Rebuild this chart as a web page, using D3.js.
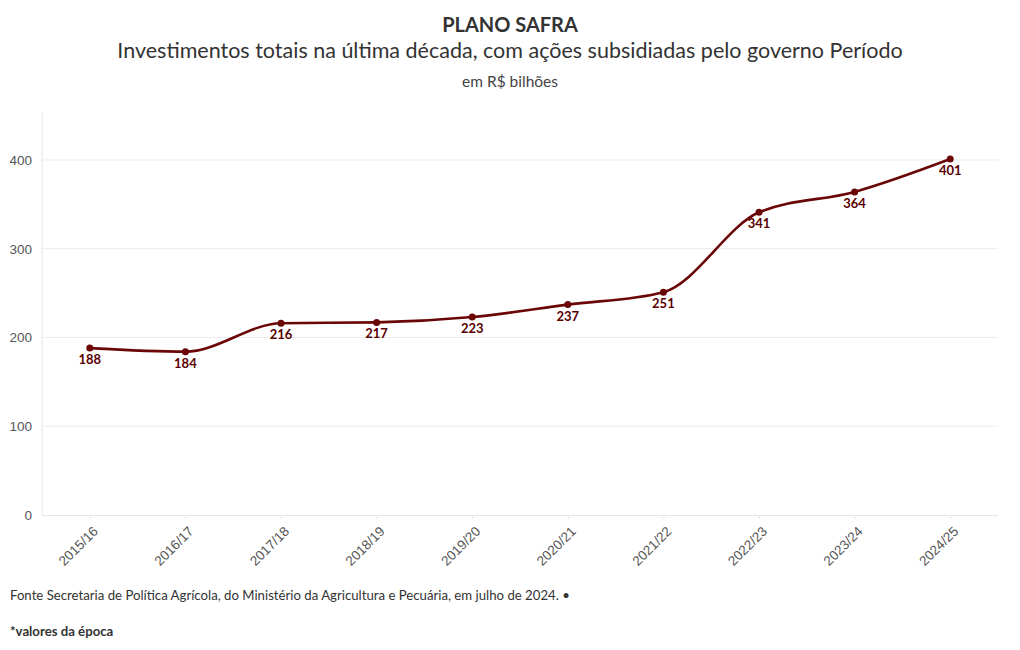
<!DOCTYPE html>
<html><head><meta charset="utf-8">
<script src="https://cdn.jsdelivr.net/npm/d3@7"></script>
<style>
body{margin:0;background:#fff;}
svg{font-family:"Source Sans Pro","Lato","Noto Sans",sans-serif;}
</style></head>
<body><svg id="c" width="1020" height="650"></svg>
<script>
const categories=["2015/16","2016/17","2017/18","2018/19","2019/20","2020/21","2021/22","2022/23","2023/24","2024/25"];
const values=[188,184,216,217,223,237,251,341,364,401];
const yTicks=[0,100,200,300,400];

const svg=d3.select("#c");
const m={l:42,r:998,t:112,b:515};
const x=d3.scalePoint().domain(categories).range([m.l,m.r]).padding(0.5);
const y=d3.scaleLinear().domain([0,454]).range([m.b,m.t]);
const col="#6b0606";

// title
svg.append("text").attr("x",510).attr("y",32).attr("text-anchor","middle").attr("font-size",20).attr("font-weight",700).attr("fill","#333").text("PLANO SAFRA");
svg.append("text").attr("x",510).attr("y",58).attr("text-anchor","middle").attr("font-size",21.5).attr("fill","#333").text("Investimentos totais na última década, com ações subsidiadas pelo governo Período");
svg.append("text").attr("x",510).attr("y",87).attr("text-anchor","middle").attr("font-size",15.5).attr("fill","#444").text("em R$ bilhões");

// grid
svg.append("g").selectAll("line").data(yTicks.filter(d=>d>0)).join("line")
 .attr("x1",m.l).attr("x2",m.r).attr("y1",d=>y(d)).attr("y2",d=>y(d)).attr("stroke","#ececec");
// y axis line
svg.append("line").attr("x1",m.l).attr("x2",m.l).attr("y1",m.t).attr("y2",m.b).attr("stroke","#e6e6e6");
const ya=svg.append("g").attr("transform",`translate(${m.l},0)`).call(d3.axisLeft(y).tickValues(yTicks).tickSize(0).tickPadding(10));
ya.select(".domain").remove();
ya.selectAll("text").attr("font-size",13.5).attr("fill","#555").attr("font-family","inherit");

// x axis
const xa=svg.append("g").attr("transform",`translate(0,${m.b})`).call(d3.axisBottom(x).tickSize(4).tickPadding(6));
xa.select(".domain").attr("d",`M${m.l},0.5H${m.r}`).attr("stroke","#e6e6e6");
xa.selectAll(".tick line").attr("stroke","#e6e6e6");
xa.selectAll("text").attr("font-size",13.5).attr("fill","#555").attr("font-family","inherit")
 .attr("text-anchor","end").attr("transform","rotate(-45)").attr("dx","-0.45em").attr("dy","0.6em");

// line
const data=categories.map((c,i)=>({c,v:values[i]}));
svg.append("path").datum(data).attr("fill","none").attr("stroke",col).attr("stroke-width",2.6)
 .attr("d",d3.line().x(d=>x(d.c)).y(d=>y(d.v)).curve(d3.curveMonotoneX));
svg.append("g").selectAll("circle").data(data).join("circle")
 .attr("cx",d=>x(d.c)).attr("cy",d=>y(d.v)).attr("r",3.5).attr("fill",col);
svg.append("g").selectAll("text").data(data).join("text")
 .attr("x",d=>x(d.c)).attr("y",d=>y(d.v)+16).attr("text-anchor","middle")
 .attr("font-size",13).attr("font-weight",700).attr("fill","#5a0000").text(d=>d.v);

// footer
svg.append("text").attr("x",10).attr("y",600).attr("font-size",13.2).attr("fill","#333")
 .text("Fonte Secretaria de Política Agrícola, do Ministério da Agricultura e Pecuária, em julho de 2024. •");
svg.append("text").attr("x",10).attr("y",636).attr("font-size",13.2).attr("font-weight",700).attr("fill","#333")
 .text("*valores da época");
</script></body></html>
